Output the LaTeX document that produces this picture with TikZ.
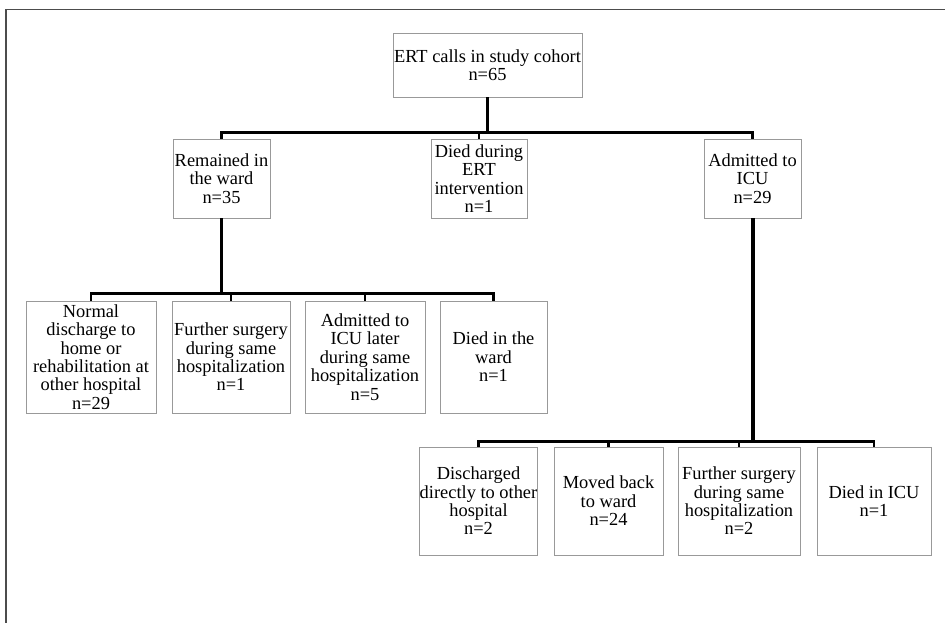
\documentclass[tikz,border=0pt]{standalone}
\usepackage{fontspec}
\setmainfont{Liberation Serif}
\usetikzlibrary{positioning,calc}

\tikzset{
	box/.style={draw=black!40, line width=0.9pt, fill=white, align=center, inner sep=0.5pt,
		font=\fontsize{18.4}{18.4}\selectfont},
	link/.style={draw=black, line width=2.2pt},
	stem/.style={draw=black, line width=3pt}
}

\begin{document}
\begin{tikzpicture}[x=1pt,y=-1pt]
		\useasboundingbox (0,0) rectangle (945,623);
		\clip (0,0) rectangle (945,623);
		\draw[black!70, line width=1.2pt] (6,9.5) rectangle (960,640);
		
		% top level
		\node[box, minimum width=189pt, minimum height=64pt] (cohort) at (487.5,65) {ERT calls in study cohort\\n=65};
		
		% first split
		\node[box, minimum width=97pt, minimum height=79pt] (ward) at (221.5,178.5) {Remained in\\the ward\\n=35};
		\node[box, minimum width=96pt, minimum height=79pt] (ertdied) at (479,178.5) {Died during\\ERT\\intervention\\n=1};
		\node[box, minimum width=97pt, minimum height=79pt] (icu) at (752.5,178.5) {Admitted to\\ICU\\n=29};
		
		% outcomes in the ward
		\node[box, minimum width=130pt, minimum height=112pt] (normal) at (91,357) {Normal\\discharge to\\home or\\rehabilitation at\\other hospital\\n=29};
		\node[box, minimum width=118pt, minimum height=112pt] (wardsurg) at (231,357) {Further surgery\\during same\\hospitalization\\n=1};
		\node[box, minimum width=120pt, minimum height=112pt] (laticu) at (365,357) {Admitted to\\ICU later\\during same\\hospitalization\\n=5};
		\node[box, minimum width=107pt, minimum height=112pt] (warddied) at (493.5,357) {Died in the\\ward\\n=1};
		
		% outcomes in ICU
		\node[box, minimum width=117pt, minimum height=108pt] (disch) at (478.5,501) {Discharged\\directly to other\\hospital\\n=2};
		\node[box, minimum width=109pt, minimum height=108pt] (back) at (608.5,501) {Moved back\\to ward\\n=24};
		\node[box, minimum width=122pt, minimum height=108pt] (icusurg) at (739,501) {Further surgery\\during same\\hospitalization\\n=2};
		\node[box, minimum width=114pt, minimum height=108pt] (icudied) at (874,501) {Died in ICU\\n=1};
		
		% connectors
		\draw[stem] (cohort.south) -- ++(0,35);
		\foreach \child in {ward,ertdied,icu}
			\draw[link] ($(cohort.south)+(0,35)$) -| (\child.north);
		
		\draw[line width=2.6pt] (ward.south) -- ++(0,75);
		\foreach \child in {normal,wardsurg,laticu,warddied}
			\draw[link] ($(ward.south)+(0,75)$) -| (\child.north);
		
		\draw[line width=4pt] (icu.south) -- ++(0,223);
		\foreach \child in {disch,back,icusurg,icudied}
			\draw[link] ($(icu.south)+(0,223)$) -| (\child.north);
	\end{tikzpicture}
\end{document}
